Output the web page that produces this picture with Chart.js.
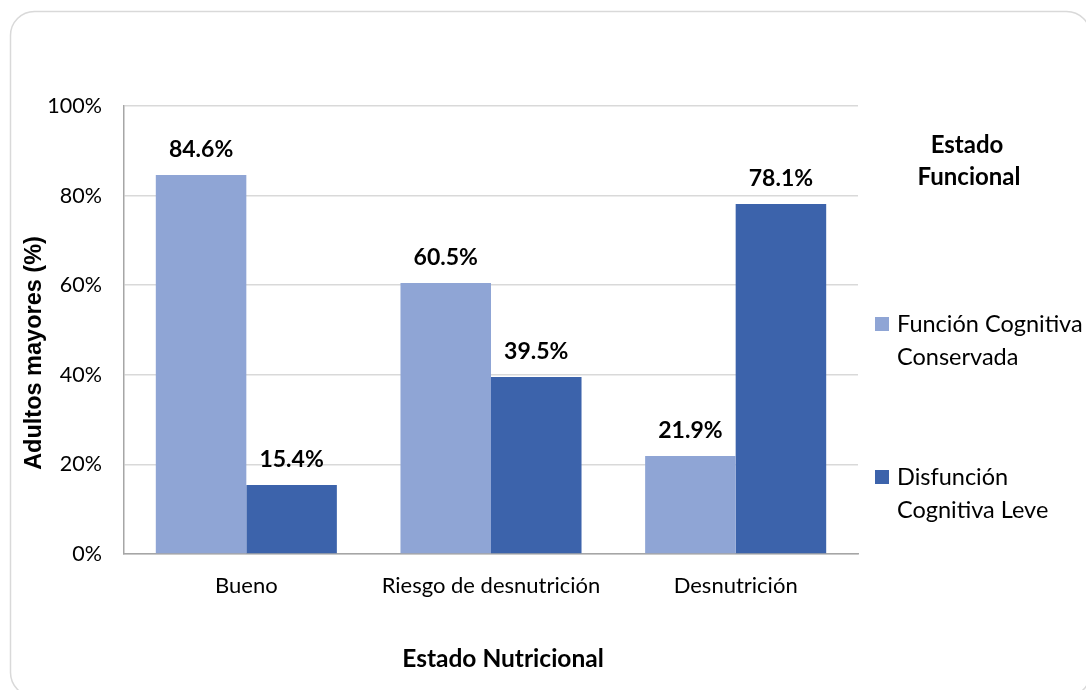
<!DOCTYPE html>
<html>
<head>
<meta charset="utf-8">
<script src="https://cdn.jsdelivr.net/npm/chart.js@4/dist/chart.umd.min.js"></script>
<style>
  html, body { margin: 0; padding: 0; background: #ffffff; }
  #wrap { width: 1086px; height: 690px; position: relative; }
</style>
</head>
<body>
<div id="wrap"><canvas id="c" width="1086" height="690"></canvas></div>
<script>
// Nutritional status categories and cognitive-function shares (%)
const categories = ['Bueno', 'Riesgo de desnutrición', 'Desnutrición'];
const conservada = [84.6, 60.5, 21.9];
const leve = [15.4, 39.5, 78.1];
const seriesNames = [['Función Cognitiva', 'Conservada'], ['Disfunción', 'Cognitiva Leve']];
const legendTitle = ['Estado', 'Funcional'];
const xTitle = 'Estado Nutricional';
const yTitle = 'Adultos mayores (%)';
const yTicks = [0, 20, 40, 60, 80, 100];

const FONT = 'Lato, "Open Sans", sans-serif';
const colors = ['#8FA5D5', '#3C63AB'];

// Rounded frame around the whole figure
const framePlugin = {
  id: 'frame',
  beforeDraw(chart) {
    const ctx = chart.ctx;
    ctx.save();
    ctx.fillStyle = '#ffffff';
    ctx.fillRect(0, 0, chart.width, chart.height);
    const x = 10.5, y = 11.5, w = 1080, h = 685, r = 24;
    ctx.beginPath();
    ctx.moveTo(x + r, y);
    ctx.lineTo(x + w - r, y);
    ctx.arcTo(x + w, y, x + w, y + r, r);
    ctx.lineTo(x + w, y + h - r);
    ctx.arcTo(x + w, y + h, x + w - r, y + h, r);
    ctx.lineTo(x + r, y + h);
    ctx.arcTo(x, y + h, x, y + h - r, r);
    ctx.lineTo(x, y + r);
    ctx.arcTo(x, y, x + r, y, r);
    ctx.closePath();
    ctx.strokeStyle = '#d9d9d9';
    ctx.lineWidth = 1.5;
    ctx.stroke();
    ctx.restore();
  }
};

// Axis titles
const axisTitles = {
  id: 'axisTitles',
  afterDraw(chart) {
    const ctx = chart.ctx;
    ctx.save();
    ctx.fillStyle = '#000000';
    ctx.textAlign = 'center';
    ctx.textBaseline = 'alphabetic';
    ctx.font = 'bold 24.5px ' + FONT;
    ctx.fillText(xTitle, 503, 667);
    ctx.translate(41, 353);
    ctx.rotate(-Math.PI / 2);
    ctx.font = 'bold 23.5px "Liberation Sans", Arial, sans-serif';
    ctx.fillText(yTitle, 0, 0);
    ctx.restore();
  }
};

// Percentage labels above each bar
const valueLabels = {
  id: 'valueLabels',
  afterDatasetsDraw(chart) {
    const ctx = chart.ctx;
    ctx.save();
    ctx.font = 'bold 23px ' + FONT;
    ctx.fillStyle = '#000000';
    ctx.textAlign = 'center';
    ctx.textBaseline = 'alphabetic';
    chart.data.datasets.forEach((ds, i) => {
      chart.getDatasetMeta(i).data.forEach((bar, j) => {
        ctx.fillText(ds.data[j].toFixed(1) + '%', bar.x, bar.y - 18);
      });
    });
    ctx.restore();
  }
};

// Legend on the right with a bold title and two-line entries
const sideLegend = {
  id: 'sideLegend',
  afterDraw(chart) {
    const ctx = chart.ctx;
    ctx.save();
    ctx.fillStyle = '#000000';
    ctx.textAlign = 'center';
    ctx.textBaseline = 'middle';
    ctx.font = 'bold 24px ' + FONT;
    ctx.fillText(legendTitle[0], 967, 145);
    ctx.fillText(legendTitle[1], 969, 177);
    ctx.font = '23.5px ' + FONT;
    ctx.textAlign = 'left';
    const tops = [324, 477];
    chart.data.datasets.forEach((ds, i) => {
      const cy = tops[i];
      ctx.fillStyle = ds.backgroundColor;
      ctx.fillRect(875, cy - 7, 14, 14);
      ctx.fillStyle = '#000000';
      seriesNames[i].forEach((line, k) => {
        ctx.fillText(line, 897, cy + k * 33);
      });
    });
    ctx.restore();
  }
};

new Chart(document.getElementById('c'), {
  type: 'bar',
  data: {
    labels: categories,
    datasets: [
      { label: seriesNames[0].join(' '), data: conservada, backgroundColor: colors[0] },
      { label: seriesNames[1].join(' '), data: leve, backgroundColor: colors[1] }
    ]
  },
  options: {
    responsive: false,
    animation: false,
    devicePixelRatio: 1,
    layout: { padding: { left: 0, top: 106, right: 228, bottom: 0 } },
    datasets: { bar: { categoryPercentage: 0.74, barPercentage: 1.0 } },
    plugins: {
      legend: { display: false },
      tooltip: { enabled: false }
    },
    scales: {
      x: {
        grid: { display: false, drawTicks: false },
        border: { display: true, color: '#a6a6a6', width: 1.5 },
        ticks: { color: '#000000', font: { family: FONT, size: 22 }, padding: 19 },
        title: { display: false },
        afterFit(scale) { scale.height = 136; }
      },
      y: {
        min: 0, max: 100,
        afterBuildTicks(scale) { scale.ticks = yTicks.map(v => ({ value: v })); },
        grid: { color: '#d9d9d9', lineWidth: 1.5, drawTicks: false },
        border: { display: true, color: '#a6a6a6', width: 1.5 },
        ticks: {
          color: '#000000', font: { family: FONT, size: 21.5 }, padding: 22,
          callback: v => v + '%'
        },
        title: { display: false },
        afterFit(scale) { scale.width = 124; }
      }
    }
  },
  plugins: [framePlugin, valueLabels, axisTitles, sideLegend]
});
</script>
</body>
</html>
